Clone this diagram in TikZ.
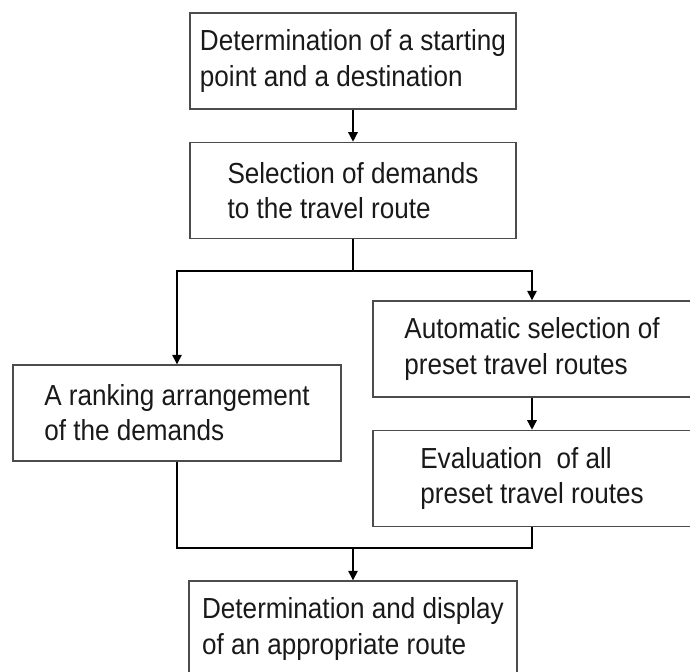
\documentclass[tikz,border=0pt]{standalone}
\usepackage{fontspec}
\newfontfamily\flowfont{Liberation Sans}[FakeStretch=0.9]
\usetikzlibrary{arrows.meta,positioning}

\begin{document}
\begin{tikzpicture}[
    x=0.2mm, y=-0.2mm,
    node distance=6.4mm,
    box/.style={draw=black!70, line width=0.8pt, minimum width=65.2mm, minimum height=19.2mm,
      align=left, inner sep=0pt, text=black!90, font={\flowfont\fontsize{16.5}{20}\selectfont}},
    sidebox/.style={box, minimum width=63.6mm},
    widebox/.style={box, minimum width=65.6mm},
    arr/.style={-{Triangle[length=1.9mm, width=1.9mm]}, line width=0.8pt},
    link/.style={line width=0.8pt}
  ]
    \useasboundingbox (0,0) rectangle (690,671);
    \clip (0,0) rectangle (690,671);

    \node[box] (start) at (353,61) {Determination of a starting\\point and a destination};
    \node[box, below=of start] (demands) {Selection of demands\\to the travel route};
    \coordinate[below=of demands] (split);
    \node[sidebox] (auto) at (532,349) {Automatic selection of\\preset travel routes};
    \node[widebox] (rank) at (177,413) {A ranking arrangement\\of the demands};
    \node[sidebox, below=of auto] (eval) {Evaluation~ of all\\preset travel routes};
    \node[widebox] (final) at (353,629) {Determination and display\\of an appropriate route};
    \coordinate (merge) at (353,548);

    \draw[arr] (start) -- (demands);
    \draw[link] (demands) -- (split);
    \draw[arr] (split) -| (auto);
    \draw[arr] (split) -| (rank);
    \draw[arr] (auto) -- (eval);
    \draw[link] (rank) |- (merge);
    \draw[link] (eval) |- (merge);
    \draw[arr] (merge) -- (final);
  \end{tikzpicture}
\end{document}
